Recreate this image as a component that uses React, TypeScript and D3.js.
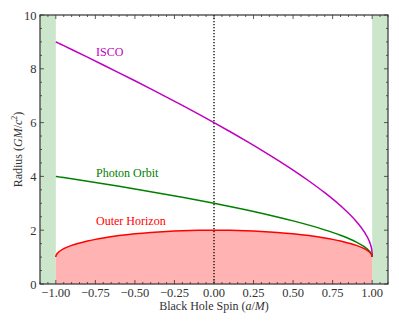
import React from "react";
import * as d3 from "d3";

const spins = [-1, -0.9999, -0.999, -0.995, -0.99, -0.98, -0.95, -0.9, -0.8, -0.7, -0.6, -0.5, -0.4, -0.3, -0.2, -0.1, 0, 0.1, 0.2, 0.3, 0.4, 0.5, 0.6, 0.7, 0.8, 0.9, 0.95, 0.98, 0.99, 0.995, 0.999, 0.9999, 1];
const isco = [9, 8.99972, 8.99721, 8.98593, 8.97186, 8.94369, 8.85903, 8.71735, 8.43176, 8.14281, 7.85069, 7.55459, 7.25427, 6.94927, 6.63903, 6.32291, 6, 5.66928, 5.32945, 4.97862, 4.61434, 4.233, 3.82907, 3.39368, 2.90665, 2.32089, 1.93724, 1.61403, 1.45449, 1.34093, 1.18174, 1.07853, 1];
const photon = [4, 3.99999, 3.99911, 3.99556, 3.9911, 3.98219, 3.95535, 3.91027, 3.81877, 3.72533, 3.62997, 3.53209, 3.43185, 3.32886, 3.22283, 3.11334, 3, 2.8822, 2.75918, 2.63002, 2.49338, 2.3473, 2.18891, 2.01333, 1.81108, 1.55785, 1.38628, 1.23954, 1.16764, 1.11757, 1.05196, 1.01636, 1];
const horizon = [1, 1.01414, 1.0447, 1.0999, 1.1411, 1.199, 1.3122, 1.4359, 1.6, 1.7141, 1.8, 1.866, 1.9165, 1.9539, 1.9798, 1.995, 2, 1.995, 1.9798, 1.9539, 1.9165, 1.866, 1.8, 1.7141, 1.6, 1.4359, 1.3122, 1.199, 1.1411, 1.0999, 1.0447, 1.01414, 1];

const xMajor = [-1, -0.75, -0.5, -0.25, 0, 0.25, 0.5, 0.75, 1];
const xLabels = ["\u22121.00", "\u22120.75", "\u22120.50", "\u22120.25", "0.00", "0.25", "0.50", "0.75", "1.00"];
const yMajor = [0, 2, 4, 6, 8, 10];
const yLabels = ["0", "2", "4", "6", "8", "10"];

const W = 399, H = 324;
const L = 40, R = 388, T = 15, B = 284;
const FONT = "'Liberation Serif', 'DejaVu Serif', serif";
const AX = "#333";

export default function App() {
  const x = d3.scaleLinear().domain([-1.1, 1.1]).range([L, R]);
  const y = d3.scaleLinear().domain([0, 10]).range([B, T]);
  const idx = d3.range(spins.length);
  const line = (vals: number[]) =>
    d3.line<number>().x(i => x(spins[i])).y(i => y(vals[i])).curve(d3.curveMonotoneX)(idx) || "";
  const area = d3.area<number>().x(i => x(spins[i])).y0(y(0)).y1(i => y(horizon[i])).curve(d3.curveMonotoneX)(idx) || "";

  const xMinor = d3.range(-22, 23).map(k => k * 0.05).filter(v => !xMajor.some(m => Math.abs(m - v) < 1e-9));
  const yMinor = d3.range(0, 21).map(k => k * 0.5).filter(v => !yMajor.includes(v));

  return (
    <svg width={W} height={H} style={{ position: "absolute", left: 0, top: 0 }} fontFamily={FONT}>
      <rect x={0} y={0} width={W} height={H} fill="#fff" />
      <defs>
        <clipPath id="plot"><rect x={L} y={T} width={R - L} height={B - T} /></clipPath>
      </defs>
      <g clipPath="url(#plot)">
        <rect x={x(-1.1)} y={T} width={x(-1) - x(-1.1)} height={B - T} fill="#cce6cc" />
        <rect x={x(1)} y={T} width={x(1.1) - x(1)} height={B - T} fill="#cce6cc" />
        <path d={area} fill="#ffb3b3" />
        <line x1={x(0)} x2={x(0)} y1={T} y2={B} stroke="#000" strokeWidth={1.3} strokeDasharray="1.3,1.7" />
        <path d={line(isco)} fill="none" stroke="#bf00bf" strokeWidth={1.5} />
        <path d={line(photon)} fill="none" stroke="#008000" strokeWidth={1.5} />
        <path d={line(horizon)} fill="none" stroke="#ff0000" strokeWidth={1.5} />
      </g>
      <g stroke={AX} strokeWidth={0.8}>
        {xMajor.map(v => (
          <g key={"xm" + v}>
            <line x1={x(v)} x2={x(v)} y1={B} y2={B - 4} />
            <line x1={x(v)} x2={x(v)} y1={T} y2={T + 4} />
          </g>
        ))}
        {xMinor.map(v => (
          <g key={"xn" + v}>
            <line x1={x(v)} x2={x(v)} y1={B} y2={B - 2} />
            <line x1={x(v)} x2={x(v)} y1={T} y2={T + 2} />
          </g>
        ))}
        {yMajor.map(v => (
          <g key={"ym" + v}>
            <line x1={L} x2={L + 4} y1={y(v)} y2={y(v)} />
            <line x1={R} x2={R - 4} y1={y(v)} y2={y(v)} />
          </g>
        ))}
        {yMinor.map(v => (
          <g key={"yn" + v}>
            <line x1={L} x2={L + 2} y1={y(v)} y2={y(v)} />
            <line x1={R} x2={R - 2} y1={y(v)} y2={y(v)} />
          </g>
        ))}
      </g>
      <rect x={L} y={T} width={R - L} height={B - T} fill="none" stroke={AX} strokeWidth={1.2} />
      <g fontSize={12.5} fill={AX}>
        {xMajor.map((v, i) => (
          <text key={"xl" + v} x={x(v)} y={B + 13} textAnchor="middle">{xLabels[i]}</text>
        ))}
        {yMajor.map((v, i) => (
          <text key={"yl" + v} x={L - 3.5} y={y(v) + 4.5} textAnchor="end">{yLabels[i]}</text>
        ))}
      </g>
      <text x={(L + R) / 2} y={B + 25.5} textAnchor="middle" fontSize={12} fill={AX}>
        Black Hole Spin (<tspan fontStyle="italic">a</tspan>/<tspan fontStyle="italic">M</tspan>)
      </text>
      <text transform={`translate(${21.5},${(T + B) / 2}) rotate(-90)`} textAnchor="middle" fontSize={12} fill={AX}>
        Radius (<tspan fontStyle="italic">GM</tspan>/<tspan fontStyle="italic">c</tspan><tspan fontSize={8} dy={-5}>2</tspan><tspan dy={5}>)</tspan>
      </text>
      <text x={96} y={56} fontSize={12} fill="#bf00bf">ISCO</text>
      <text x={96} y={177} fontSize={12} fill="#008000">Photon Orbit</text>
      <text x={96} y={225} fontSize={12} fill="#ff0000">Outer Horizon</text>
    </svg>
  );
}
